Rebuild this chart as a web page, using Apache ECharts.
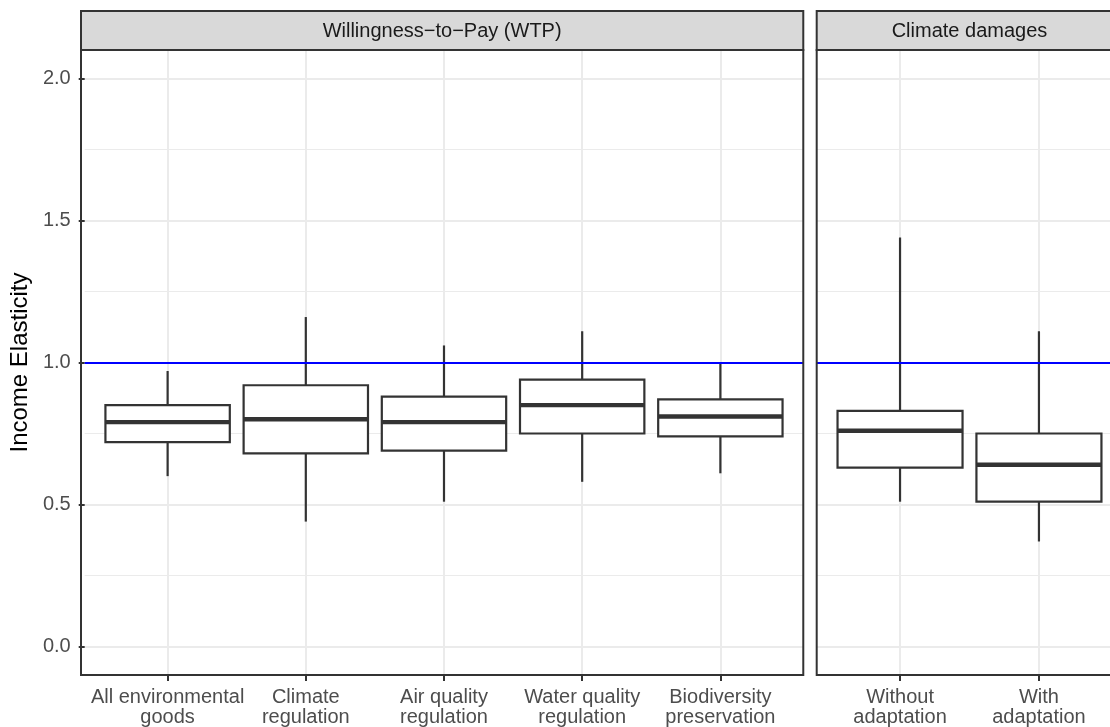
<!DOCTYPE html>
<html>
<head>
<meta charset="utf-8">
<script src="https://cdn.jsdelivr.net/npm/echarts@6/dist/echarts.min.js"></script>
<style>
html,body{margin:0;padding:0;background:#fff;}
#chart{width:1110px;height:727px;}
</style>
</head>
<body>
<div id="chart"></div>
<script>
// ---- data ----
const wtpCategories = ['All environmental\ngoods','Climate\nregulation','Air quality\nregulation','Water quality\nregulation','Biodiversity\npreservation'];
const wtpLow    = [0.60, 0.44, 0.51, 0.58, 0.61];
const wtpQ1     = [0.72, 0.68, 0.69, 0.75, 0.74];
const wtpMedian = [0.79, 0.80, 0.79, 0.85, 0.81];
const wtpQ3     = [0.85, 0.92, 0.88, 0.94, 0.87];
const wtpHigh   = [0.97, 1.16, 1.06, 1.11, 1.00];

const damCategories = ['Without\nadaptation','With\nadaptation'];
const damLow    = [0.51, 0.37];
const damQ1     = [0.63, 0.51];
const damMedian = [0.76, 0.64];
const damQ3     = [0.83, 0.75];
const damHigh   = [1.44, 1.11];

const yTicks = [0, 0.5, 1.0, 1.5, 2.0];
const yMinor = [0.25, 0.75, 1.25, 1.75];
const refLine = 1.0;
const panelTitles = ['Willingness\u2212to\u2212Pay (WTP)', 'Climate damages'];
const yTitle = 'Income Elasticity';

// ---- build ----
function boxRows(low,q1,med,q3,high){
  return low.map((v,i)=>[i+1, v, q1[i], med[i], q3[i], high[i]]);
}
const FONT = 'Liberation Sans, Arial, Helvetica, sans-serif';
const DARK = '#333333';

function renderBox(params, api){
  const x = api.value(0);
  const pLo = api.coord([x, api.value(1)]);
  const pQ1 = api.coord([x, api.value(2)]);
  const pMd = api.coord([x, api.value(3)]);
  const pQ3 = api.coord([x, api.value(4)]);
  const pHi = api.coord([x, api.value(5)]);
  const half = api.size([0.9, 0])[0] / 2;
  const cx = pMd[0];
  return {
    type: 'group',
    children: [
      {type:'line', shape:{x1:cx,y1:pHi[1],x2:cx,y2:pQ3[1]}, style:{stroke:DARK,lineWidth:2.2}},
      {type:'line', shape:{x1:cx,y1:pQ1[1],x2:cx,y2:pLo[1]}, style:{stroke:DARK,lineWidth:2.2}},
      {type:'rect', shape:{x:cx-half,y:pQ3[1],width:2*half,height:pQ1[1]-pQ3[1]}, style:{fill:'#fff',stroke:DARK,lineWidth:2.2}},
      {type:'line', shape:{x1:cx-half,y1:pMd[1],x2:cx+half,y2:pMd[1]}, style:{stroke:DARK,lineWidth:4.4}}
    ]
  };
}

// pixels per x unit shared by both facets (free space facets)
const unitPx = 138.9;
const CANVAS_W = 1110;
const panels = [
  {left:81, top:50, height:625, fullWidth:unitPx*5.2, nCat:5},
  {left:816.7, top:50, height:625, fullWidth:unitPx*2.2, nCat:2}
];
// visible grid (clipped to canvas)
const grids = panels.map(p=>{
  const w = Math.min(p.fullWidth, CANVAS_W - p.left);
  return {left:p.left, top:p.top, width:w, height:p.height, containLabel:false};
});

function xAxisFor(idx, cats){
  const vals = cats.map((c,i)=>i+1);
  const p = panels[idx], g = grids[idx];
  return {
    type:'value', gridIndex:idx, min:0.4, max:0.4 + g.width/unitPx,
    axisLine:{show:false, onZero:false},
    axisTick:{show:true, customValues:vals, length:6, lineStyle:{color:DARK,width:2}},
    axisLabel:{show:true, customValues:vals, formatter:v=>cats[Math.round(v)-1]||'',
      color:'#4d4d4d', fontSize:20, lineHeight:20, fontFamily:FONT, margin:12},
    splitLine:{show:true, lineStyle:{color:'#ebebeb', width:2}}
  };
}
function yAxisFor(idx, showLabels){
  const ax = {
    type:'value', gridIndex:idx, min:-0.1, max:2.1,
    axisLine:{show:false, onZero:false},
    axisTick:{show:showLabels, customValues:yTicks, length:6, lineStyle:{color:DARK,width:2}},
    axisLabel:{show:showLabels, customValues:yTicks, formatter:v=>v.toFixed(1),
      color:'#4d4d4d', fontSize:20, fontFamily:FONT, margin:14},
    splitLine:{show:true, lineStyle:{color:'#ebebeb', width:2}}
  };
  if (showLabels){
    ax.name = yTitle; ax.nameLocation='middle'; ax.nameGap=45;
    ax.nameTextStyle = {color:'#000', fontSize:24, fontFamily:FONT};
  }
  return ax;
}

function minorSeries(idx){
  return {
    type:'line', xAxisIndex:idx, yAxisIndex:idx, data:[], z:1, silent:true,
    markLine:{silent:true, symbol:'none', label:{show:false}, animation:false,
      lineStyle:{color:'#ebebeb', width:1, type:'solid'},
      data: yMinor.map(v=>({yAxis:v}))}
  };
}
function refSeries(idx){
  return {
    type:'line', xAxisIndex:idx, yAxisIndex:idx, data:[], z:10, silent:true,
    markLine:{silent:true, symbol:'none', label:{show:false}, animation:false, z:10,
      lineStyle:{color:'#0000ff', width:2, type:'solid'},
      data:[{yAxis:refLine}]}
  };
}

const stripY = 11, stripH = 39;
const graphics = [];
panels.forEach((p,i)=>{
  graphics.push({type:'rect', z:100, shape:{x:p.left,y:stripY,width:p.fullWidth,height:stripH},
    style:{fill:'#d9d9d9', stroke:DARK, lineWidth:2}});
  graphics.push({type:'text', z:101, x:p.left+p.fullWidth/2, y:stripY+stripH/2+1,
    style:{text:panelTitles[i], fill:'#1a1a1a', font:'20px '+FONT, align:'center', verticalAlign:'middle'}});
  graphics.push({type:'rect', z:100, shape:{x:p.left,y:p.top,width:p.fullWidth,height:p.height},
    style:{fill:null, stroke:DARK, lineWidth:2}});
});

const option = {
  animation:false,
  backgroundColor:'#fff',
  grid: grids,
  xAxis:[xAxisFor(0, wtpCategories), xAxisFor(1, damCategories)],
  yAxis:[yAxisFor(0,true), yAxisFor(1,false)],
  graphic: graphics,
  series:[
    minorSeries(0), minorSeries(1),
    {type:'custom', xAxisIndex:0, yAxisIndex:0, z:5, renderItem:renderBox,
      data:boxRows(wtpLow,wtpQ1,wtpMedian,wtpQ3,wtpHigh), encode:{x:0,y:[1,2,3,4,5]}},
    {type:'custom', xAxisIndex:1, yAxisIndex:1, z:5, renderItem:renderBox,
      data:boxRows(damLow,damQ1,damMedian,damQ3,damHigh), encode:{x:0,y:[1,2,3,4,5]}},
    refSeries(0), refSeries(1)
  ]
};
const chart = echarts.init(document.getElementById('chart'));
chart.setOption(option);
</script>
</body>
</html>
